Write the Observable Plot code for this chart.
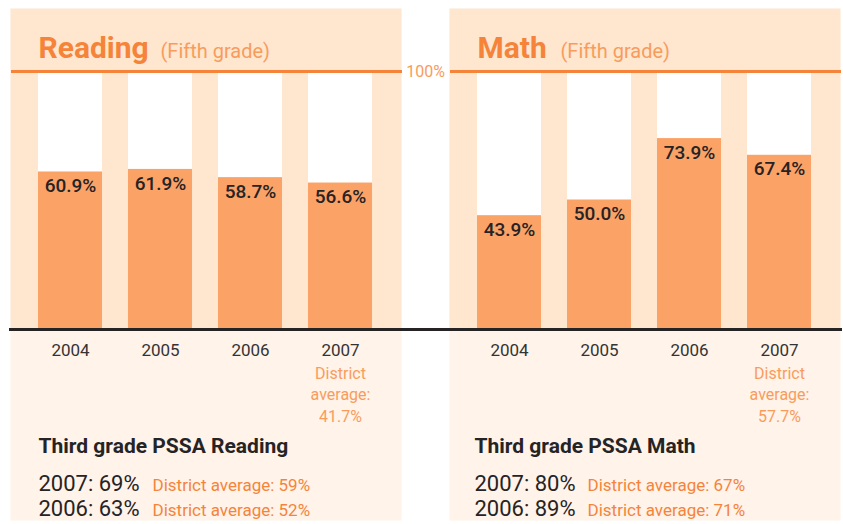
<!DOCTYPE html>
<html><head><meta charset="utf-8">
<script src="https://cdn.jsdelivr.net/npm/d3@7"></script>
<script src="https://cdn.jsdelivr.net/npm/@observablehq/plot@0.6"></script>
<style>
html,body{margin:0;padding:0;background:#fff;overflow:hidden;}
#chart svg{display:block;}
</style></head><body><div id="chart"></div>
<script>
// ---- data ----
const subjects = ["Reading", "Math"];
const subtitles = ["(Fifth grade)", "(Fifth grade)"];
const years = ["2004", "2005", "2006", "2007"];
const readingValues = [60.9, 61.9, 58.7, 56.6];
const mathValues = [43.9, 50.0, 73.9, 67.4];
const districtAverage2007 = [41.7, 57.7];
const thirdGradeTitles = ["Third grade PSSA Reading", "Third grade PSSA Math"];
const thirdGradeYears = ["2007", "2006"];
const thirdGradeReading = [69, 63];
const thirdGradeReadingDistrict = [59, 52];
const thirdGradeMath = [80, 89];
const thirdGradeMathDistrict = [67, 71];
const topLabel = "100%";

// ---- styles ----
const PEACH = "#fee6cf";
const LIGHT = "#fff3ea";
const BAR = "#fba267";
const ORANGE = "#f5843a";
const ORANGE_LIGHT = "#f89c5c";
const DARK = "#262324";
const offsets = {
  Reading: {title: 28, left: 28, sub: 150, avg: 142},
  Math: {title: 28, left: 25, sub: 111, avg: 138}
};

// ---- tables ----
const seriesBySubject = [readingValues, mathValues];
const bars = [];
subjects.forEach((s, i) => years.forEach((y, j) => bars.push({subject: s, year: y, value: seriesBySubject[i][j]})));
const panels = subjects.map((s, i) => ({
  subject: s,
  subtitle: subtitles[i],
  avg: districtAverage2007[i],
  third: thirdGradeTitles[i],
  scores: i === 0 ? thirdGradeReading : thirdGradeMath,
  district: i === 0 ? thirdGradeReadingDistrict : thirdGradeMathDistrict
}));

const font = "Roboto, 'Noto Sans', sans-serif";

const marks = [
  Plot.frame({fill: PEACH, stroke: "none", insetTop: -63}),
  Plot.frame({fill: LIGHT, stroke: "none", insetTop: 257, insetBottom: -192}),
  Plot.barY(bars, {fx: "subject", x: "year", y: () => 100, fill: "white"}),
  Plot.barY(bars, {fx: "subject", x: "year", y: "value", fill: BAR}),
  Plot.ruleY([100], {stroke: ORANGE, strokeWidth: 3, insetLeft: 1, insetRight: -1}),
  Plot.ruleY(panels.filter(d => d.subject === "Reading"), {fx: "subject", y: () => 0, stroke: DARK, strokeWidth: 3, dy: 1, insetLeft: -1, insetRight: -25}),
  Plot.ruleY(panels.filter(d => d.subject === "Math"), {fx: "subject", y: () => 0, stroke: DARK, strokeWidth: 3, dy: 1, insetLeft: -25, insetRight: -2}),
  Plot.text(panels.filter(d => d.subject === "Reading"), {fx: "subject", y: () => 100, text: () => topLabel, frameAnchor: "right", dx: 24, textAnchor: "middle", fill: ORANGE_LIGHT, fontSize: 16}),
  // bar value labels
  Plot.text(bars, {fx: "subject", x: "year", y: "value", text: d => d.value.toFixed(1) + "%", dy: 14, lineAnchor: "middle", fill: DARK, fontSize: 19, fontWeight: 500}),
  // year tick labels
  Plot.text(bars, {fx: "subject", x: "year", y: () => 0, text: "year", dy: 22, lineAnchor: "middle", fill: "#333", fontSize: 17}),
  // district average under 2007
  Plot.text(panels, {fx: "subject", x: () => years[years.length - 1], y: () => 0, text: d => `District\naverage:\n${d.avg}%`, dy: 65, lineAnchor: "middle", lineHeight: 1.35, fill: ORANGE_LIGHT, fontSize: 16})
];

for (const p of panels) {
  const o = offsets[p.subject];
  const one = [p];
  marks.push(
    Plot.text(one, {fx: "subject", text: "subject", frameAnchor: "top-left", dx: o.title, dy: -14, lineAnchor: "bottom", textAnchor: "start", fill: ORANGE, fontSize: 30, fontWeight: "bold"}),
    Plot.text(one, {fx: "subject", text: "subtitle", frameAnchor: "top-left", dx: o.sub, dy: -14, lineAnchor: "bottom", textAnchor: "start", fill: ORANGE_LIGHT, fontSize: 20}),
    Plot.text(one, {fx: "subject", text: "third", frameAnchor: "bottom-left", dx: o.left, dy: 124, lineAnchor: "bottom", textAnchor: "start", fill: DARK, fontSize: 21, fontWeight: "bold"})
  );
  thirdGradeYears.forEach((yr, k) => {
    marks.push(
      Plot.text(one, {fx: "subject", text: d => `${yr}: ${d.scores[k]}%`, frameAnchor: "bottom-left", dx: o.left, dy: 162 + k * 25, lineAnchor: "bottom", textAnchor: "start", fill: DARK, fontSize: 22}),
      Plot.text(one, {fx: "subject", text: d => `District average: ${d.district[k]}%`, frameAnchor: "bottom-left", dx: o.avg, dy: 162 + k * 25, lineAnchor: "bottom", textAnchor: "start", fill: ORANGE, fontSize: 17})
    );
  });
}

const chart = Plot.plot({
  width: 843,
  height: 524,
  marginLeft: 9,
  marginRight: 2,
  marginTop: 71,
  marginBottom: 196,
  style: {fontFamily: font, background: "white"},
  fx: {domain: subjects, paddingInner: 0.109, paddingOuter: 0, axis: null},
  x: {domain: years, paddingInner: 0.2857, paddingOuter: 0.2967, axis: null},
  y: {domain: [0, 100], axis: null},
  marks
});
document.getElementById("chart").appendChild(chart);
</script>
</body></html>
